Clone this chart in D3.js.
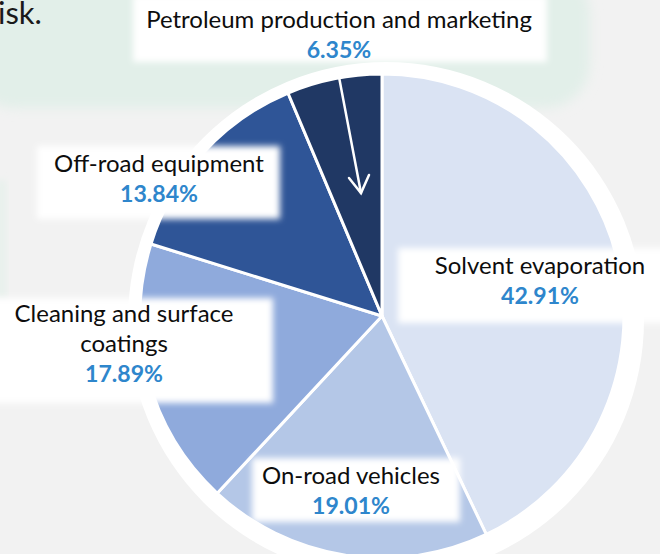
<!DOCTYPE html>
<html>
<head>
<meta charset="utf-8">
<script src="https://cdn.jsdelivr.net/npm/d3@7/dist/d3.min.js"></script>
<style>
html,body{margin:0;padding:0;background:#f2f2f2;overflow:hidden;}
svg{display:block;}
</style>
</head>
<body>
<svg id="chart" width="660" height="554"></svg>
<script>
// ---- data ----
const categories = ["Solvent evaporation", "On-road vehicles", "Cleaning and surface coatings", "Off-road equipment", "Petroleum production and marketing"];
const values = [42.91, 19.01, 17.89, 13.84, 6.35];
const colors = ["#dae3f3", "#b4c7e7", "#8faadc", "#2f5597", "#203864"];

// ---- layout (positions of label boxes and text lines) ----
const labelLayout = [
  {box:[398, 248, 270, 75], cx:540, lines:["Solvent evaporation"], y0:274},
  {box:[252, 458, 208, 64], cx:351, lines:["On-road vehicles"], y0:484},
  {box:[-10, 298, 283, 105], cx:124, lines:["Cleaning and surface","coatings"], y0:322},
  {box:[37, 146, 243, 73], cx:159, lines:["Off-road equipment"], y0:172},
  {box:[133, -5, 414, 67], cx:339, lines:["Petroleum production and marketing"], y0:28}
];

const svg = d3.select("#chart");
const W = 660, H = 554;
const defs = svg.append("defs");
defs.append("filter").attr("id","blur6").attr("x","-20%").attr("y","-20%").attr("width","140%").attr("height","140%")
  .append("feGaussianBlur").attr("stdDeviation", 6);
defs.append("filter").attr("id","blur3").attr("x","-10%").attr("y","-20%").attr("width","120%").attr("height","140%")
  .append("feGaussianBlur").attr("stdDeviation", 3);

// background
svg.append("rect").attr("width", W).attr("height", H).attr("fill", "#f2f2f2");
svg.append("rect").attr("x", -30).attr("y", -30).attr("width", 620).attr("height", 138).attr("rx", 45)
  .attr("fill", "#e2efe9").attr("filter", "url(#blur6)");
svg.append("rect").attr("x", -10).attr("y", 180).attr("width", 17).attr("height", 120)
  .attr("fill", "#e9f1ed").attr("filter", "url(#blur3)");

// "isk." text (continuation of text cut at the left edge)
svg.append("text").attr("x", -2).attr("y", 24).attr("font-family", "Lato, 'Open Sans', sans-serif")
  .attr("font-size", 31).attr("fill", "#1a1a1a").text("isk.");

// white ring
svg.append("circle").attr("cx", 386).attr("cy", 320).attr("r", 258).attr("fill", "#ffffff");

// pie
const cx = 382, cy = 316, R = 242;
const pie = d3.pie().sort(null).value(d => d.v).startAngle(0).endAngle(2 * Math.PI);
const data = categories.map((c, i) => ({c, v: values[i], col: colors[i], i}));
const arcs = pie(data);
const arc = d3.arc().innerRadius(0).outerRadius(R);
const g = svg.append("g").attr("transform", `translate(${cx},${cy})`);
g.selectAll("path").data(arcs).join("path")
  .attr("d", arc)
  .attr("fill", d => d.data.col)
  .attr("stroke", "#ffffff")
  .attr("stroke-width", 3)
  .attr("stroke-linejoin", "round");

// arrow in petroleum slice
const ag = svg.append("g").attr("stroke", "#ffffff").attr("stroke-width", 2.5).attr("fill", "none").attr("stroke-linecap", "round");
ag.append("line").attr("x1", 339).attr("y1", 77).attr("x2", 361).attr("y2", 193);
ag.append("polyline").attr("points", "349,178 361,193 369,175").attr("stroke-linejoin", "miter");

// label boxes
const lg = svg.append("g");
labelLayout.forEach(L => {
  lg.append("rect").attr("x", L.box[0]).attr("y", L.box[1]).attr("width", L.box[2]).attr("height", L.box[3])
    .attr("fill", "#ffffff").attr("filter", "url(#blur3)");
});

// font fitting
const FONT = "Lato, 'Open Sans', sans-serif";
function fit(text, weight, target) {
  const t = svg.append("text").attr("font-family", FONT).attr("font-weight", weight).attr("font-size", 20).text(text);
  const w = t.node().getComputedTextLength();
  t.remove();
  return 20 * target / w;
}
const fsNorm = fit("Petroleum production and marketing", "normal", 386);
const fsBold = fit("42.91%", "bold", 78);
const fmt = d3.format(".2f");

arcs.forEach((a, i) => {
  const L = labelLayout[i];
  L.lines.forEach((ln, k) => {
    lg.append("text").attr("x", L.cx).attr("y", L.y0 + k * 29.5)
      .attr("text-anchor", "middle").attr("font-family", FONT).attr("font-size", fsNorm)
      .attr("fill", "#0d0d0d").text(ln);
  });
  lg.append("text").attr("x", L.cx).attr("y", L.y0 + L.lines.length * 29.8)
    .attr("text-anchor", "middle").attr("font-family", FONT).attr("font-weight", "bold").attr("font-size", fsBold)
    .attr("fill", "#2e86cc").text(fmt(a.data.v) + "%");
});
</script>
</body>
</html>
